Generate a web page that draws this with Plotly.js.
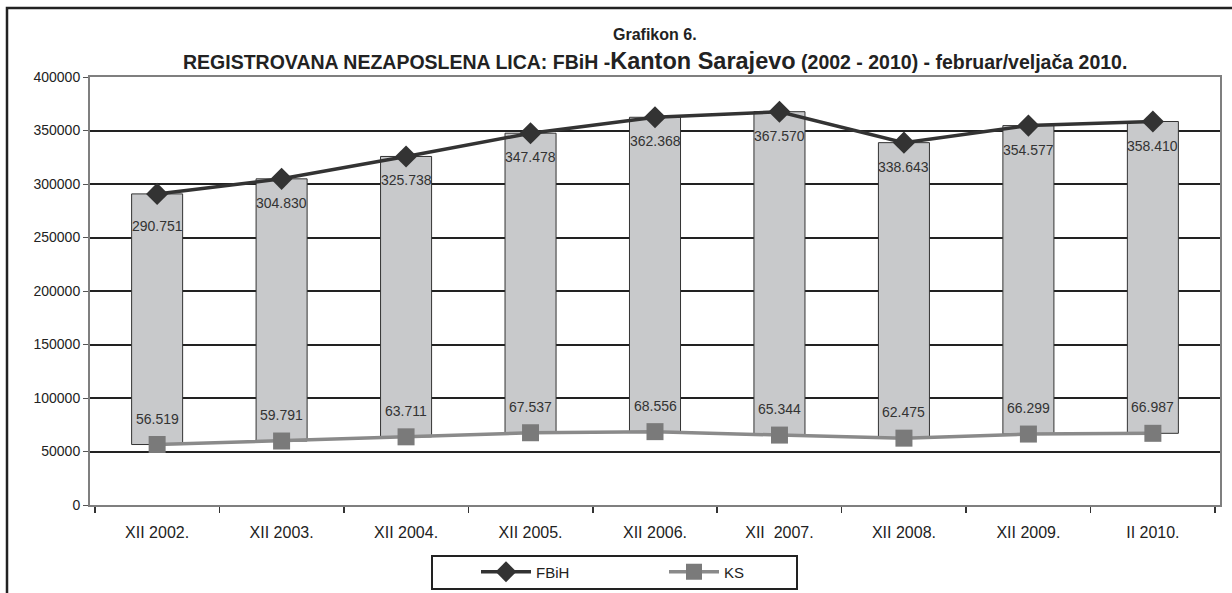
<!DOCTYPE html>
<html>
<head>
<meta charset="utf-8">
<script src="https://cdn.plot.ly/plotly-3.0.1.min.js"></script>
<style>html,body{margin:0;padding:0;background:#fff;}#chart{width:1232px;height:593px;}</style>
</head>
<body>
<div id="chart"></div>
<script>
const categories = ["XII 2002.", "XII 2003.", "XII 2004.", "XII 2005.", "XII 2006.", "XII\u00a0 2007.", "XII 2008.", "XII 2009.", "II 2010."];
const fbih = [290751, 304830, 325738, 347478, 362368, 367570, 338643, 354577, 358410];
const ks = [56519, 59791, 63711, 67537, 68556, 65344, 62475, 66299, 66987];
const fbihLabels = ["290.751", "304.830", "325.738", "347.478", "362.368", "367.570", "338.643", "354.577", "358.410"];
const ksLabels = ["56.519", "59.791", "63.711", "67.537", "68.556", "65.344", "62.475", "66.299", "66.987"];
const yTicks = [0, 50000, 100000, 150000, 200000, 250000, 300000, 350000, 400000];

const font = "Liberation Sans, Arial, sans-serif";
const W = 1232, H = 593, L = 90, R = 12, T = 77, B = 88;
const pw = W - L - R, ph = H - T - B;
const px = x => (x - L) / pw;          // pixel -> paper x
const py = y => (H - B - y) / ph;      // pixel -> paper y

const traces = [
  {
    type: 'bar', x: categories, y: fbih.map((v, i) => v - ks[i]), base: ks,
    marker: {color: '#c8c9cb', line: {color: '#333333', width: 1}},
    width: 0.41, showlegend: false, hoverinfo: 'skip'
  },
  {
    type: 'scatter', mode: 'lines+markers', name: 'FBiH', x: categories, y: fbih,
    line: {color: '#333333', width: 3.5},
    marker: {symbol: 'diamond', size: 17, color: '#333333'}
  },
  {
    type: 'scatter', mode: 'lines+markers', name: 'KS', x: categories, y: ks,
    line: {color: '#8a8a8a', width: 3.5},
    marker: {symbol: 'square', size: 17, color: '#7a7a7a'}
  }
];

const annotations = [];
categories.forEach((c, i) => {
  annotations.push({x: c, y: fbih[i], text: fbihLabels[i], showarrow: false, yshift: i === 0 ? -32 : -24,
    font: {family: font, size: 14, color: '#333'}});
  annotations.push({x: c, y: ks[i], text: ksLabels[i], showarrow: false, yshift: 26,
    font: {family: font, size: 14, color: '#333'}});
});
annotations.push({xref: 'paper', yref: 'paper', x: 0.5, y: py(35), xanchor: 'center', yanchor: 'middle',
  text: '<b>Grafikon 6.</b>', showarrow: false, font: {family: font, size: 16, color: '#222'}});
annotations.push({xref: 'paper', yref: 'paper', x: 0.5, y: py(61), xanchor: 'center', yanchor: 'middle',
  text: "<b>REGISTROVANA NEZAPOSLENA LICA: FBiH -<span style='font-size:23.5px'>Kanton Sarajevo</span> (2002 - 2010) - februar/veljača 2010.</b>",
  showarrow: false, font: {family: font, size: 19.5, color: '#222'}});

const layout = {
  width: W, height: H,
  margin: {l: L, r: R, t: T, b: B, autoexpand: false},
  paper_bgcolor: '#ffffff', plot_bgcolor: '#ffffff',
  font: {family: font, color: '#222'},
  bargap: 0.59,
  xaxis: {
    type: 'category', showgrid: false, showline: true, linecolor: '#7f7f7f', linewidth: 2, mirror: true,
    ticks: 'outside', tickson: 'boundaries', ticklen: 6, tickcolor: '#333', tickwidth: 1.5,
    ticklabelstandoff: 12,
    tickfont: {family: font, size: 16, color: '#222'}, zeroline: false
  },
  yaxis: {
    range: [0, 400000], tickvals: yTicks, ticktext: yTicks.map(String),
    showgrid: true, gridcolor: '#222', gridwidth: 2,
    showline: true, linecolor: '#7f7f7f', linewidth: 2, mirror: true,
    ticks: 'outside', ticklen: 5, tickcolor: '#555', tickwidth: 1,
    tickfont: {family: font, size: 14, color: '#222'}, zeroline: false
  },
  legend: {
    orientation: 'h', x: px(476), xanchor: 'left', y: py(572), yanchor: 'middle',
    borderwidth: 0, bgcolor: 'rgba(0,0,0,0)',
    font: {family: font, size: 15, color: '#222'}, entrywidth: 123, itemwidth: 50
  },
  annotations: annotations,
  shapes: [
    {type: 'rect', xref: 'paper', yref: 'paper', x0: px(7), x1: px(1260), y0: py(640), y1: py(8),
     line: {color: '#222', width: 2.5}, fillcolor: 'rgba(0,0,0,0)', layer: 'below'},
    {type: 'rect', xref: 'paper', yref: 'paper', x0: px(432), x1: px(797), y0: py(589), y1: py(556),
     line: {color: '#222', width: 2}, fillcolor: 'rgba(0,0,0,0)', layer: 'above'}
  ],
  showlegend: true
};

Plotly.newPlot('chart', traces, layout, {displayModeBar: false, staticPlot: true});
</script>
</body>
</html>
